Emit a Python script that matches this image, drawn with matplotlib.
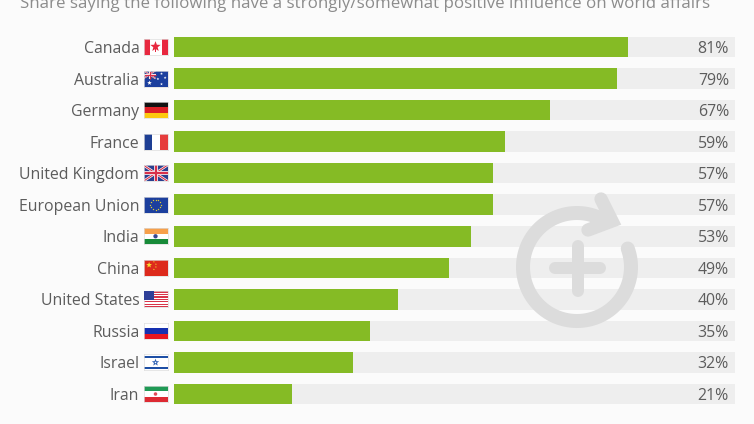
import numpy as np
import matplotlib
matplotlib.use("Agg")
import matplotlib.pyplot as plt
from matplotlib.patches import Rectangle, Polygon, Circle

W, H = 754, 424
countries = ["Canada", "Australia", "Germany", "France", "United Kingdom", "European Union",
             "India", "China", "United States", "Russia", "Israel", "Iran"]
values = [81, 79, 67, 59, 57, 57, 53, 49, 40, 35, 32, 21]
title = "Share saying the following have a strongly/somewhat positive influence on world affairs"

BG = "#fbfbfb"
GREEN = "#85bb25"
TRACK = "#eeeeee"
TEXT = "#5c5c5c"
FONT = "Open Sans"

fig = plt.figure(figsize=(W / 100, H / 100), dpi=100, facecolor=BG)
top, bottom = 31.2, 409.8
ax = fig.add_axes([174 / W, 1 - bottom / H, 560.5 / W, (bottom - top) / H])
ax.set_facecolor("none")
y = np.arange(len(countries))
ax.barh(y, [100] * len(y), height=0.65, color=TRACK, linewidth=0)
ax.barh(y, values, height=0.65, color=GREEN, linewidth=0)
ax.set_xlim(0, 100)
ax.set_ylim(len(y) - 0.5, -0.5)
ax.set_xticks([])
ax.set_yticks(y, countries, family=FONT, fontsize=11.4, color=TEXT)
ax.tick_params(axis="y", length=0, pad=25)
for s in ax.spines.values():
    s.set_visible(False)
for yi, v in zip(y, values):
    ax.text(99.0, yi, f"{v}%", ha="right", va="center_baseline", family=FONT, fontsize=11.4, color=TEXT)

fig.text(20 / W, 1 - 4 / H, title, ha="left", va="center", family=FONT, fontsize=12.2, color="#8c8c8c")


def star(a, cx, cy, r, color, z=5):
    ang = np.pi / 2 + np.arange(10) * np.pi / 5
    rad = np.where(np.arange(10) % 2 == 0, r, r * 0.42)
    a.add_patch(Polygon(np.c_[cx + rad * np.cos(ang), cy + rad * np.sin(ang)], color=color, lw=0, zorder=z))


def stripes(a, cols, vertical=False, weights=None):
    weights = weights or [1] * len(cols)
    total = sum(weights)
    pos = 0
    for c, w in zip(cols, weights):
        if vertical:
            a.add_patch(Rectangle((pos * 3 / total, 0), w * 3 / total, 2, color=c, lw=0))
        else:
            a.add_patch(Rectangle((0, 2 - (pos + w) * 2 / total), 3, w * 2 / total, color=c, lw=0))
        pos += w


def union(a, x0, y0, x1, y1, lw):
    a.add_patch(Rectangle((x0, y0), x1 - x0, y1 - y0, color="#2a3f8f", lw=0))
    a.plot([x0, x1], [y0, y1], color="white", lw=lw * 2, solid_capstyle="butt")
    a.plot([x0, x1], [y1, y0], color="white", lw=lw * 2, solid_capstyle="butt")
    a.plot([x0, x1], [y0, y1], color="#d8304a", lw=lw * 0.9, solid_capstyle="butt")
    a.plot([x0, x1], [y1, y0], color="#d8304a", lw=lw * 0.9, solid_capstyle="butt")
    xm, ym = (x0 + x1) / 2, (y0 + y1) / 2
    a.plot([xm, xm], [y0, y1], color="white", lw=lw * 3, solid_capstyle="butt")
    a.plot([x0, x1], [ym, ym], color="white", lw=lw * 3, solid_capstyle="butt")
    a.plot([xm, xm], [y0, y1], color="#d8304a", lw=lw * 1.8, solid_capstyle="butt")
    a.plot([x0, x1], [ym, ym], color="#d8304a", lw=lw * 1.8, solid_capstyle="butt")


def f_canada(a):
    stripes(a, ["#e8283f", "white", "#e8283f"], True, [1, 2, 1])
    star(a, 1.5, 1.05, 0.68, "#e8283f")
    a.add_patch(Rectangle((1.44, 0.35), 0.12, 0.5, color="#e8283f", lw=0))


def f_australia(a):
    stripes(a, ["#1c3f9e"])
    union(a, 0, 1, 1.5, 2, 0.5)
    star(a, 0.75, 0.45, 0.3, "white")
    for p in [(2.25, 1.6), (2.25, 0.3), (1.8, 0.95), (2.7, 1.1)]:
        star(a, p[0], p[1], 0.18, "white")


def f_germany(a):
    stripes(a, ["#111111", "#dd1f26", "#fcc80e"])


def f_france(a):
    stripes(a, ["#1e3f94", "white", "#e63c3c"], True)


def f_uk(a):
    union(a, 0, 0, 3, 2, 0.9)


def f_eu(a):
    stripes(a, ["#1c3f9e"])
    t = np.arange(12) * np.pi / 6
    a.scatter(1.5 + 0.65 * np.cos(t), 1 + 0.65 * np.sin(t), s=1.0, color="#d9c73a", lw=0, zorder=5)


def f_india(a):
    stripes(a, ["#f7a04a", "white", "#178a38"])
    a.add_patch(Circle((1.5, 1), 0.27, color="#39488f", lw=0, zorder=5))


def f_china(a):
    stripes(a, ["#dd2a1c"])
    star(a, 0.7, 1.35, 0.38, "#f8d92d")
    for p in [(1.3, 1.75), (1.55, 1.45), (1.55, 1.1), (1.3, 0.8)]:
        star(a, p[0], p[1], 0.12, "#f8d92d")


def f_usa(a):
    stripes(a, ["#d8344a", "white"] * 6 + ["#d8344a"])
    a.add_patch(Rectangle((0, 0.92), 1.35, 1.08, color="#2f3f98", lw=0, zorder=4))


def f_russia(a):
    stripes(a, ["white", "#1530b0", "#e6151f"])


def f_israel(a):
    stripes(a, ["white", "#1e4fa5", "white", "#1e4fa5", "white"], False, [1, 1.2, 6, 1.2, 1])
    star(a, 1.5, 1, 0.48, "#2b5fb3")
    a.add_patch(Circle((1.5, 1), 0.1, color="white", lw=0, zorder=6))


def f_iran(a):
    stripes(a, ["#1f9a55", "white", "#dd2a32"])
    a.add_patch(Circle((1.5, 1), 0.22, color="#e04a55", lw=0, zorder=5))


flags = [f_canada, f_australia, f_germany, f_france, f_uk, f_eu,
         f_india, f_china, f_usa, f_russia, f_israel, f_iran]
step = (bottom - top) / len(y)
for i, f in enumerate(flags):
    yc = top + (i + 0.5) * step
    a = fig.add_axes([143.5 / W, 1 - (yc + 8) / H, 24 / W, 16 / H])
    a.set_xlim(0, 3)
    a.set_ylim(0, 2)
    a.set_xticks([])
    a.set_yticks([])
    f(a)
    for s in a.spines.values():
        s.set_color("#dddddd")
        s.set_linewidth(0.5)

# Watermark icon, in figure pixels
ov = fig.add_axes([0, 0, 1, 1], facecolor="none")
ov.set_xlim(0, W)
ov.set_ylim(H, 0)
ov.axis("off")
WM = "#dcdcdc"
lw = 14 * 0.72
cx, cy, r = 577, 267, 54
theta = np.radians(np.linspace(-20, 303, 300))
ov.plot(cx + r * np.cos(theta), cy + r * np.sin(theta), color=WM, lw=lw, solid_capstyle="round")
ov.plot([601, 612, 588], [199, 221, 230], color=WM, lw=lw * 0.95,
        solid_capstyle="round", solid_joinstyle="miter")
ov.plot([555, 600], [267.5, 267.5], color=WM, lw=12 * 0.72, solid_capstyle="round")
ov.plot([577.5, 577.5], [246, 291], color=WM, lw=12 * 0.72, solid_capstyle="round")

fig.savefig("out.png", dpi=100, facecolor=BG)
